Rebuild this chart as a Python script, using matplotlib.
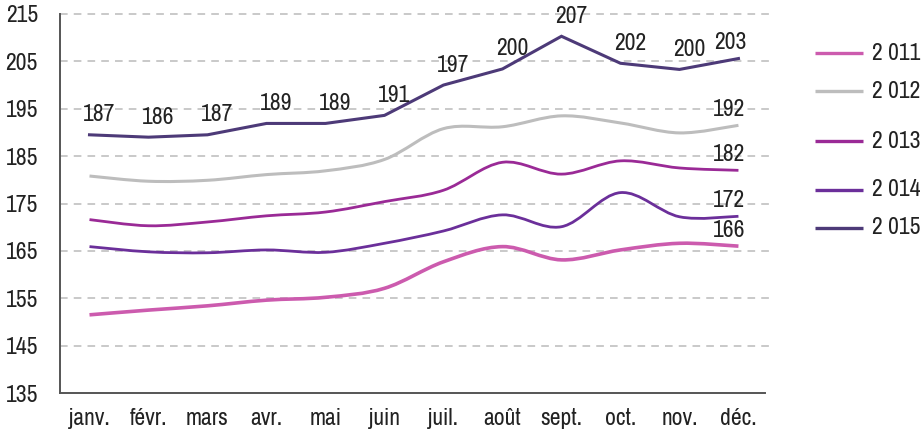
import matplotlib
matplotlib.use("Agg")
import matplotlib.pyplot as plt
from matplotlib import font_manager as fm
from matplotlib.path import Path
from matplotlib.patches import PathPatch
from matplotlib.lines import Line2D
import numpy as np

# pick a narrow face if one is installed
narrow = None
stretch = 'normal'
for f in fm.fontManager.ttflist:
    nm = f.name
    if 'Narrow' in nm or 'Condensed' in nm:
        narrow = nm
        break
if narrow is None:
    for f in fm.fontManager.ttflist:
        if str(f.stretch) in ('condensed', 'semi-condensed', 'semi-expanded') or \
                (isinstance(f.stretch, int) and f.stretch < 500):
            narrow = f.name
            stretch = f.stretch
            break
fams = ([narrow] if narrow else []) + ['Liberation Sans', 'DejaVu Sans']
plt.rcParams['font.family'] = fams
plt.rcParams['font.stretch'] = stretch
FS = 17 if narrow else 15.5

months = ["janv.", "févr.", "mars", "avr.", "mai", "juin", "juil.", "août",
          "sept.", "oct.", "nov.", "déc."]
y_ticks = [135, 145, 155, 165, 175, 185, 195, 205, 215]

s2011 = [151.5, 152.5, 153.4, 154.6, 155.2, 157.1, 162.7, 165.9, 163.1, 165.2, 166.6, 166.0]
s2012 = [180.8, 179.7, 179.9, 181.1, 181.9, 184.3, 190.8, 191.2, 193.5, 192.0, 189.9, 191.5]
s2013 = [171.6, 170.3, 171.1, 172.4, 173.2, 175.4, 177.8, 183.7, 181.2, 184.0, 182.5, 182.0]
s2014 = [165.9, 164.8, 164.6, 165.2, 164.7, 166.6, 169.2, 172.6, 170.1, 177.3, 172.2, 172.3]
s2015 = [189.5, 189.0, 189.5, 191.9, 191.9, 193.6, 200.0, 203.4, 210.3, 204.6, 203.3, 205.6]

labels2015 = ["187", "186", "187", "189", "189", "191", "197", "200", "207", "202", "200", "203"]
last_labels = {"2 011": "166", "2 012": "192", "2 013": "182", "2 014": "172"}

series = [
    ("2 011", s2011, "#CC5BAE", 2.6, True),
    ("2 012", s2012, "#BDBDBD", 2.2, True),
    ("2 013", s2013, "#9A2A96", 2.0, True),
    ("2 014", s2014, "#6B2F9A", 2.0, True),
    ("2 015", s2015, "#4D3A78", 2.2, False),
]


def smooth_path(xs, ys):
    pts = np.column_stack([xs, ys]).astype(float)
    n = len(pts)
    verts = [pts[0]]
    codes = [Path.MOVETO]
    for i in range(n - 1):
        p0 = pts[i - 1] if i > 0 else pts[i]
        p1 = pts[i]
        p2 = pts[i + 1]
        p3 = pts[i + 2] if i + 2 < n else pts[i + 1]
        c1 = p1 + (p2 - p0) / 6.0
        c2 = p2 - (p3 - p1) / 6.0
        verts += [c1, c2, p2]
        codes += [Path.CURVE4] * 3
    return Path(verts, codes)


fig = plt.figure(figsize=(9.24, 4.37), dpi=100)
ax = fig.add_axes([60 / 924, 1 - 393 / 437, (765 - 60) / 924, (393 - 14) / 437])

x = np.arange(len(months))
for name, vals, col, lw, smooth in series:
    if smooth:
        patch = PathPatch(smooth_path(x, vals), facecolor='none', edgecolor=col,
                          lw=lw, capstyle='butt', joinstyle='round', zorder=3)
        ax.add_patch(patch)
    else:
        ax.plot(x, vals, color=col, lw=lw, solid_joinstyle='miter', zorder=3)

TXT = '#222222'
for i, (v, lab) in enumerate(zip(s2015, labels2015)):
    off = (-8, 16) if i == len(s2015) - 1 else (10, 20)
    ax.annotate(lab, (x[i], v), xytext=off, textcoords='offset pixels',
                ha='center', va='center', fontsize=FS, color=TXT, zorder=4)

for name, vals, col, lw, smooth in series[:4]:
    ax.annotate(last_labels[name], (x[-1], vals[-1]), xytext=(-9, 16),
                textcoords='offset pixels', ha='center', va='center',
                fontsize=FS, color=TXT, zorder=4)

ax.set_xlim(-0.5, 11.45)
ax.set_ylim(135, 215)
ax.set_yticks(y_ticks)
ax.set_yticklabels([str(t) for t in y_ticks], fontsize=FS, color=TXT)
ax.set_xticks(x)
ax.set_xticklabels(months, fontsize=FS, color=TXT)
ax.tick_params(axis='both', length=0)
ax.tick_params(axis='y', pad=16)
ax.tick_params(axis='x', pad=11)

for t in y_ticks[1:]:
    ax.axhline(t, color='#BBBBBB', lw=1.1, ls=(0, (5, 4)), zorder=1, clip_on=False,
               xmin=0, xmax=1.005)

for s in ['top', 'right']:
    ax.spines[s].set_visible(False)
for s in ['left', 'bottom']:
    ax.spines[s].set_color('#555555')
    ax.spines[s].set_linewidth(1.4)

leg_y = [53, 91, 141, 190, 228]
for (name, vals, col, lw, smooth), yy in zip(series, leg_y):
    fy = 1 - yy / 437
    fig.add_artist(Line2D([815 / 924, 863 / 924], [fy, fy], color=col, lw=2.4,
                          solid_capstyle='butt'))
    fig.text(872 / 924, fy, name, fontsize=FS, va='center', ha='left', color=TXT)

fig.savefig("out.png", dpi=100)
